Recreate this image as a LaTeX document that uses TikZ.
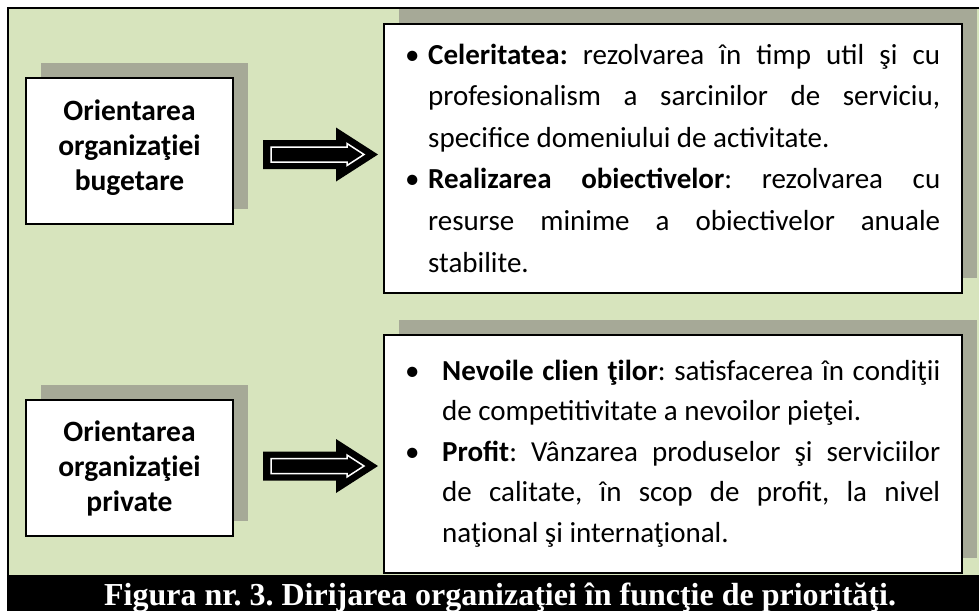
\documentclass[tikz,border=0pt]{standalone}
\usepackage{fontspec}
\setmainfont{Carlito}
\newfontfamily\capfont{Liberation Serif}
\usetikzlibrary{shadows}

\definecolor{fundal}{RGB}{215,228,189}
\definecolor{umbra}{RGB}{166,169,151}

\hyphenpenalty=10000
\exhyphenpenalty=10000
\frenchspacing

\newcommand{\punct}[2]{\noindent\hangindent=#1\hangafter=1\makebox[#1][l]{\textbullet}#2\par}

\tikzset{
    cutie/.style={draw, line width=1.2pt, fill=white, inner sep=0pt,
        drop shadow={shadow xshift=15pt, shadow yshift=15pt, fill=umbra, opacity=1}},
    orientare/.style={align=center, inner sep=0pt, font=\fontsize{29.5}{35}\selectfont\bfseries},
    lista/.style={anchor=base west, inner sep=0pt, align=justify}
}

\begin{document}
\begin{tikzpicture}[x=1pt, y=-1pt]
        \useasboundingbox (0,0) rectangle (979,611);
        \fill[fundal] (8,8) rectangle (979,575);
        \draw[line width=2.5pt] (979,8) -- (8,8) -- (8,611);
        \fill[black] (7,575) rectangle (979,611);

        \node[cutie, minimum width=207pt, minimum height=146pt] (lb1) at (129.5,151) {};
        \node[cutie, minimum width=207pt, minimum height=136pt] (lb2) at (129.5,468) {};
        \node[cutie, minimum width=578pt, minimum height=269pt] (rb1) at (673,158.5) {};
        \node[cutie, minimum width=578pt, minimum height=238pt] (rb2) at (673,454) {};

        \node[orientare] (o1) at ([yshift=3pt]lb1) {Orientarea\\organizaţiei\\bugetare};
        \node[orientare] (o2) at (lb2) {Orientarea\\organizaţiei\\private};

        \foreach \y in {154.5, 466}
        {
            \fill[black] (263,\y-14.5) -- (336,\y-14.5) -- (336,\y-27) -- (378,\y)
                -- (336,\y+27) -- (336,\y+14.5) -- (263,\y+14.5) -- cycle;
            \draw[white, line width=1.5pt] (271,\y-7.5) -- (347,\y-7.5) -- (347,\y-11) -- (364,\y)
                -- (347,\y+11) -- (347,\y+7.5) -- (271,\y+7.5) -- cycle;
        }

        \node[lista, text width=535pt, font=\fontsize{29}{41.6}\selectfont] (t1) at (405,64)
        {\punct{23pt}{\textbf{Celeritatea:} rezolvarea în timp util şi cu\linebreak
        profesionalism a sarcinilor de serviciu,\linebreak
        specifice domeniului de activitate.}%
        \punct{23pt}{\textbf{Realizarea obiectivelor}: rezolvarea cu\linebreak
        resurse minime a obiectivelor anuale\linebreak
        stabilite.}};

        \node[lista, text width=535pt, font=\fontsize{29}{40.5}\selectfont] (t2) at (405,380)
        {\punct{37pt}{\textbf{Nevoile clien ţilor}: satisfacerea în condiţii\linebreak
        de competitivitate a nevoilor pieţei.}%
        \punct{37pt}{\textbf{Profit}: Vânzarea produselor şi serviciilor\linebreak
        de calitate, în scop de profit, la nivel\linebreak
        naţional şi internaţional.}};

        \node[anchor=base, text=white, font=\capfont\bfseries\fontsize{32}{32}\selectfont] (cap) at (500,605)
        {Figura nr. 3. Dirijarea organizaţiei în funcţie de priorităţi.};
\end{tikzpicture}
\end{document}
